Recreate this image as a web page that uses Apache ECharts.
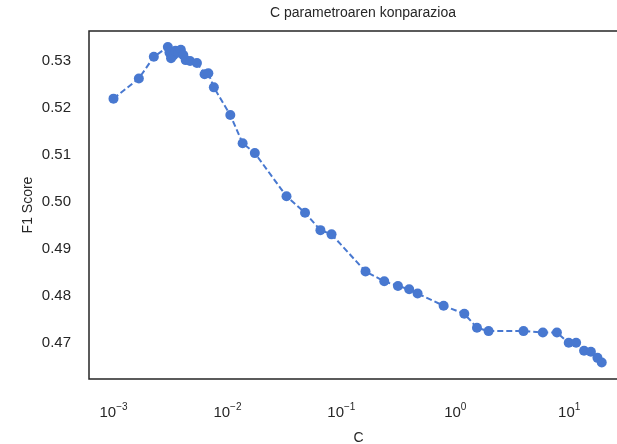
<!DOCTYPE html>
<html>
<head>
<meta charset="utf-8">
<script src="https://cdn.jsdelivr.net/npm/echarts@6/dist/echarts.min.js"></script>
<style>
  html, body { margin: 0; padding: 0; background: #ffffff; }
  #chart { width: 617px; height: 444px; }
</style>
</head>
<body>
<div id="chart"></div>
<script>
// Data
const cValues = [
  0.001, 0.00167, 0.00226, 0.0030, 0.0031, 0.0032, 0.00335, 0.0035, 0.0037, 0.0039,
  0.0041, 0.0043, 0.0047, 0.0054, 0.0063, 0.0068, 0.0076, 0.0106, 0.0136, 0.0174,
  0.033, 0.048, 0.0655, 0.082, 0.163, 0.238, 0.314, 0.394, 0.467, 0.79,
  1.2, 1.55, 1.96, 3.97, 5.87, 7.8, 9.9, 11.5, 13.5, 15.5,
  17.7, 19.3
];
const f1Scores = [
  0.5220, 0.5263, 0.5309, 0.5330, 0.5318, 0.5306, 0.5312, 0.5322, 0.5318, 0.5324,
  0.5313, 0.5302, 0.5300, 0.5296, 0.5272, 0.5274, 0.5244, 0.5185, 0.5125, 0.5104,
  0.5012, 0.4977, 0.4940, 0.4931, 0.4852, 0.4831, 0.4821, 0.4814, 0.4805, 0.4779,
  0.4762, 0.4732, 0.4725, 0.4725, 0.4722, 0.4722, 0.4700, 0.4700, 0.4683, 0.4681,
  0.4668, 0.4658
];
const xTickValues = [0.001, 0.01, 0.1, 1, 10];
const yTickValues = [0.47, 0.48, 0.49, 0.50, 0.51, 0.52, 0.53];

const titleText = 'C parametroaren konparazioa';
const xName = 'C';
const yName = 'F1 Score';

const textColor = '#262626';
const pointColor = '#4878d0';

const seriesData = cValues.map((c, i) => [c, f1Scores[i]]);

const chart = echarts.init(document.getElementById('chart'), null, { renderer: 'canvas' });

function supLabel(v) {
  const e = Math.round(Math.log10(v));
  const s = e < 0 ? '\u2212' + Math.abs(e) : String(e);
  return '{b|10}{s|' + s + '}';
}

chart.setOption({
  backgroundColor: '#ffffff',
  animation: false,
  textStyle: { fontFamily: 'Liberation Sans, Arial, sans-serif' },
  title: {
    text: titleText,
    left: 358,
    top: 1,
    textAlign: 'center',
    textStyle: { fontSize: 14, fontWeight: 'normal', color: textColor, fontFamily: 'Liberation Sans, Arial, sans-serif' }
  },
  grid: {
    left: 89,
    top: 31,
    width: 539,
    height: 348,
    show: true,
    borderColor: '#262626',
    borderWidth: 1.5,
    backgroundColor: 'transparent',
    containLabel: false,
    outerBoundsMode: 'none'
  },
  xAxis: {
    type: 'log',
    logBase: 10,
    min: Math.pow(10, -3.215),
    max: Math.pow(10, 1.516),
    name: xName,
    nameLocation: 'middle',
    nameGap: 52,
    nameMoveOverlap: false,
    nameTextStyle: { fontSize: 14, color: textColor },
    axisLine: { show: false },
    axisTick: { show: false },
    splitLine: { show: false },
    minorTick: { show: false },
    axisLabel: {
      customValues: xTickValues,
      margin: 23,
      color: textColor,
      formatter: supLabel,
      rich: {
        b: { fontSize: 15, color: textColor, verticalAlign: 'bottom' },
        s: { fontSize: 10, color: textColor, verticalAlign: 'bottom', padding: [0, 0, 8, 0] }
      }
    }
  },
  yAxis: {
    type: 'value',
    min: 0.4623,
    max: 0.5364,
    name: yName,
    nameLocation: 'middle',
    nameGap: 54,
    nameMoveOverlap: false,
    nameTextStyle: { fontSize: 14, color: textColor },
    axisLine: { show: false },
    axisTick: { show: false },
    splitLine: { show: false },
    axisLabel: {
      customValues: yTickValues,
      margin: 18,
      fontSize: 15,
      color: textColor,
      formatter: v => v.toFixed(2)
    }
  },
  series: [{
    type: 'line',
    data: seriesData,
    symbol: 'circle',
    symbolSize: 10,
    showSymbol: true,
    itemStyle: { color: pointColor },
    lineStyle: { color: pointColor, width: 2, type: [6, 3] },
    clip: false
  }]
});
</script>
</body>
</html>
